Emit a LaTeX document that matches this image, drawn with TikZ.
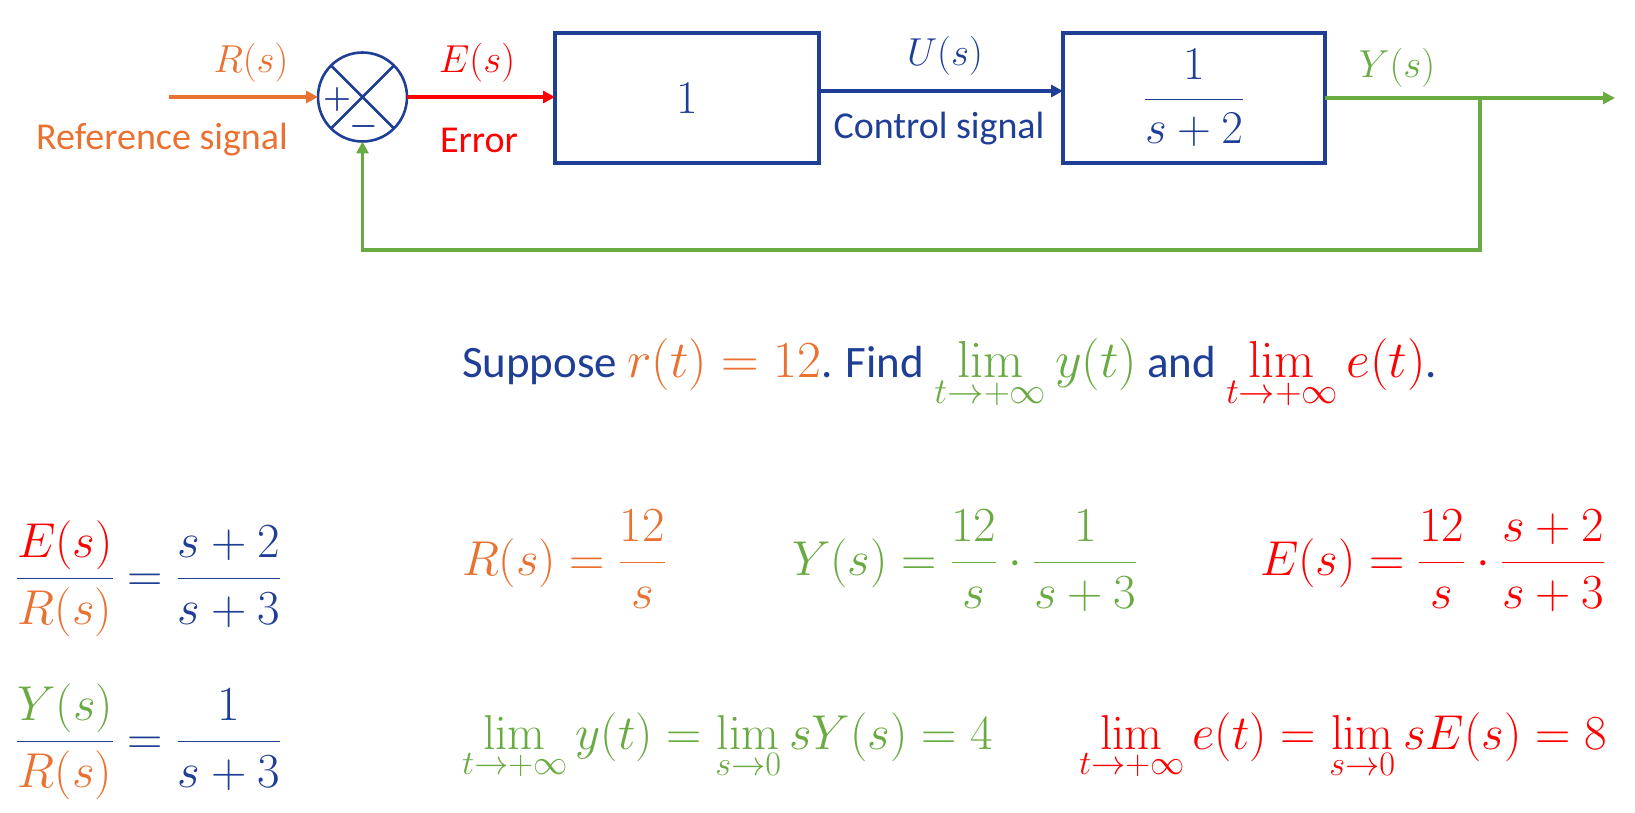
\RequirePackage{fix-cm}
\documentclass[tikz,border=0pt]{standalone}
\usepackage{amsmath}
\usepackage[no-math]{fontspec}
\setmainfont{Carlito}
\usetikzlibrary{arrows.meta}
\definecolor{cblue}{HTML}{1F3E96}
\definecolor{corange}{HTML}{E97132}
\definecolor{cgreen}{HTML}{6AAA42}
\definecolor{cred}{HTML}{FF0000}
\newcommand{\qtxt}[1]{{\fontsize{45}{52}\selectfont #1}}
\begin{document}
\begin{tikzpicture}[x=1pt,y=-1pt,
  every node/.style={inner sep=0pt, outer sep=0pt},
  sig/.style={line width=3.5pt, -{Triangle[length=12pt,width=12pt]}},
  blk/.style={draw=cblue, line width=3.8pt, text=cblue, font=\fontsize{47}{50}\selectfont},
  sumc/.style={circle, draw=cblue, line width=2.6pt, minimum size=89pt},
  pm/.style={text=cblue, font=\fontsize{32}{32}\selectfont\boldmath},
  lbl/.style={font=\fontsize{38}{44}\selectfont},
  mlbl/.style={font=\fontsize{39}{44}\selectfont},
  big/.style={font=\fontsize{49}{56}\selectfont, anchor=base west},
  qline/.style={font=\fontsize{52}{58}\selectfont, anchor=base west}
]
\useasboundingbox (0,0) rectangle (1635,813);

% summing junction
\node[sumc] (sum) at (362.5,97) {};
\draw[cblue, line width=2.6pt] (sum.north west) -- (sum.south east) (sum.north east) -- (sum.south west);
\node[pm] (plus) at (337,100) {$+$};
\node[pm] (minus) at (364,127) {$-$};

% blocks
\node[blk, minimum width=264pt, minimum height=130pt] (b1) at (687,98) {$1$};
\node[blk, minimum width=262pt, minimum height=130pt] (b2) at (1194,98) {$\dfrac{1}{s+2}$};

% connectors
\coordinate (rin) at (169,97);
\coordinate (yout) at (1615,98);
\coordinate (br) at (1480,98);
\coordinate (fb) at (1480,250);
\draw[sig, corange] (rin) -- (sum.west);
\draw[sig, cred] (sum.east) -- (b1.west |- sum.east);
\draw[sig, cblue] ([yshift=7pt]b1.east) -- ([yshift=7pt]b2.west);
\draw[sig, cgreen] (b2.east) -- (yout);
\draw[sig, cgreen] (br) -- (fb) -| (sum.south);

% labels
\node[mlbl, text=corange] (rlab) at (251,63) {$R(s)$};
\node[lbl, text=corange, anchor=base] (rtxt) at (162,150) {Reference signal};
\node[mlbl, text=cred] (elab) at (477,63) {$E(s)$};
\node[lbl, text=cred, anchor=base] (etxt) at (479,153) {Error};
\node[mlbl, text=cblue] (ulab) at (945,56) {$U(s)$};
\node[lbl, text=cblue, anchor=base] (utxt) at (939,139) {Control signal};
\node[mlbl, text=cgreen] (ylab) at (1397,68) {$Y(s)$};

% question
\node[qline, text=cblue] (q) at (462,377) {\qtxt{Suppose }\textcolor{corange}{$r(t)=12$}\qtxt{. Find }\textcolor{cgreen}{$\lim\limits_{t\to+\infty} y(t)$}\qtxt{ and }\textcolor{cred}{$\lim\limits_{t\to+\infty} e(t)$}\qtxt{.}};

% equations
\node[big, text=cblue] (eq1) at (16,591) {$\dfrac{\textcolor{cred}{E(s)}}{\textcolor{corange}{R(s)}}=\dfrac{s+2}{s+3}$};
\node[big, text=cblue] (eq2) at (16,754) {$\dfrac{\textcolor{cgreen}{Y(s)}}{\textcolor{corange}{R(s)}}=\dfrac{1}{s+3}$};
\node[big, text=corange] (eq3) at (462,575) {$R(s)=\dfrac{12}{s}$};
\node[big, text=cgreen] (eq4) at (792,575) {$Y(s)=\dfrac{12}{s}\cdot\dfrac{1}{s+3}$};
\node[big, text=cred] (eq5) at (1260,575) {$E(s)=\dfrac{12}{s}\cdot\dfrac{s+2}{s+3}$};
\node[big, text=cgreen] (eq6) at (462,749) {$\lim\limits_{t\to+\infty} y(t)=\lim\limits_{s\to0} sY(s)=4$};
\node[big, text=cred] (eq7) at (1079,749) {$\lim\limits_{t\to+\infty} e(t)=\lim\limits_{s\to0} sE(s)=8$};
\end{tikzpicture}
\end{document}
